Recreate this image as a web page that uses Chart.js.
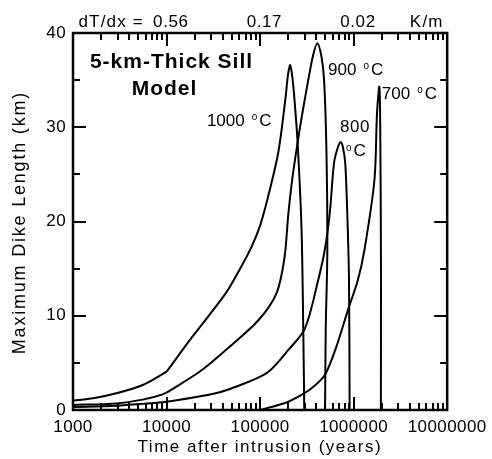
<!DOCTYPE html>
<html>
<head>
<meta charset="utf-8">
<script src="https://cdn.jsdelivr.net/npm/chart.js@4.4.1/dist/chart.umd.min.js"></script>
<style>
  html, body { margin: 0; padding: 0; background: #fff; }
  #wrap { width: 492px; height: 459px; }
</style>
</head>
<body>
<div id="wrap"><canvas id="dikeChart"></canvas></div>
<script>
/* tick labels */
const xTicks = [1000, 10000, 100000, 1000000, 10000000];
const yTicks = [0, 10, 20, 30, 40];
const gradTicks = [10000, 100000, 1000000];
const gradLabels = ['0.56', '0.17', '0.02'];

/* 1000 °C : two pieces, kink at 10000 yr */
const t1000a = [1000, 1640, 2910, 5570, 10000];
const l1000a = [1.0, 1.24, 1.77, 2.65, 4.06];
const t1000b = [10000, 18800, 43000, 63600, 81000, 101000, 123000, 157000, 186000, 199000, 210000, 220000, 232000, 252000, 277500, 289500, 296600];
const l1000b = [4.06, 7.75, 12.4, 15.3, 17.3, 19.7, 22.8, 27.4, 32.9, 35.6, 36.6, 35.5, 33.2, 28.3, 19.1, 8.5, 0];

/* 900 °C : two pieces, kink at 10000 yr */
const t900a = [1000, 2910, 5570, 8380, 10000];
const l900a = [0.53, 0.7, 1.1, 1.55, 1.84];
const t900b = [10000, 22300, 43000, 96500, 150000, 182000, 200000, 220000, 253000, 281000, 327000, 370000, 410000, 453000, 483000, 511000, 523500, 503000, 495000];
const l900b = [1.84, 4.03, 6.37, 9.55, 12.4, 16.1, 20.7, 24.4, 28.5, 31.3, 35.0, 37.7, 38.9, 37.5, 35.0, 27.9, 17.0, 8.5, 0];

/* 800 °C */
const t800 = [1000, 2910, 5570, 10000, 33500, 75500, 123000, 200500, 302000, 418000, 492000, 556000, 617000, 680000, 727000, 767000, 813000, 855000, 892000, 906000];
const l800 = [0.32, 0.45, 0.65, 0.88, 1.77, 3.0, 4.06, 6.37, 8.67, 13.8, 17.0, 20.9, 26.2, 27.9, 28.4, 27.9, 26.2, 20.9, 13.8, 0];

/* 700 °C */
const t700 = [100000, 157000, 200500, 256000, 355000, 492000, 653000, 869000, 1110000, 1306000, 1668000, 1778000, 1884000, 1925000, 1960000, 1955000];
const l700 = [0, 0.53, 0.88, 1.41, 2.3, 3.71, 6.7, 10.6, 13.8, 17.0, 24.4, 31.5, 34.3, 30.0, 15.0, 0];

/* curve labels: [text before the degree sign, time, length] */
const curveLabels = [
  ['1000', 27000, 30.6],
  ['900', 533000, 36.0],
  ['700', 2000000, 33.5]
];

const FONT = 'Arial, "Liberation Sans", Helvetica, sans-serif';

function pts(t, l) { return t.map((v, i) => ({ x: v, y: l[i] })); }

function curve(t, l) {
  return {
    data: pts(t, l),
    showLine: true,
    borderColor: '#000',
    borderWidth: 2,
    pointRadius: 0,
    tension: 0.3,
    fill: false
  };
}

function drawDeg(ctx, pre, px, py) {
  ctx.textAlign = 'left';
  ctx.textBaseline = 'middle';
  ctx.letterSpacing = '0px';
  ctx.font = '17px ' + FONT;
  let w = 0;
  if (pre) {
    ctx.fillText(pre, px, py);
    w = ctx.measureText(pre).width + 7;
  }
  ctx.font = '10px ' + FONT;
  ctx.fillText('o', px + w, py - 4);
  w += ctx.measureText('o').width + 2;
  ctx.font = '17px ' + FONT;
  ctx.fillText('C', px + w, py);
}

function spaced(ctx, text, px, py, spacing, align) {
  ctx.letterSpacing = spacing + 'px';
  const w = ctx.measureText(text).width - spacing;
  let left = px;
  if (align === 'center') left = px - w / 2;
  else if (align === 'right') left = px - w;
  ctx.textAlign = 'left';
  ctx.fillText(text, left, py);
  ctx.letterSpacing = '0px';
}

const frameAndText = {
  id: 'frameAndText',
  beforeDraw(chart) {
    chart.ctx.letterSpacing = '0.4px';
  },
  afterDraw(chart) {
    const { ctx, chartArea: a, scales: { x, y } } = chart;
    ctx.save();
    ctx.strokeStyle = '#000';
    ctx.fillStyle = '#000';

    // inward ticks on all four sides
    ctx.lineWidth = 2;
    ctx.beginPath();
    for (let d = 3; d < 7; d++) {
      for (let m = 1; m < 10; m++) {
        const px = Math.round(x.getPixelForValue(m * Math.pow(10, d)));
        const len = m === 1 ? 13 : 7;
        ctx.moveTo(px, a.bottom); ctx.lineTo(px, a.bottom - len);
        ctx.moveTo(px, a.top); ctx.lineTo(px, a.top + len);
      }
    }
    for (let v = 0; v <= 40; v += 5) {
      const py = Math.round(y.getPixelForValue(v));
      const len = v % 10 === 0 ? 13 : 7;
      ctx.moveTo(a.left, py); ctx.lineTo(a.left + len, py);
      ctx.moveTo(a.right, py); ctx.lineTo(a.right - len, py);
    }
    ctx.stroke();

    ctx.lineWidth = 2.5;
    ctx.strokeRect(a.left, a.top, a.right - a.left, a.bottom - a.top);

    ctx.textBaseline = 'middle';

    // axis titles
    ctx.font = '17px ' + FONT;
    spaced(ctx, 'Time after intrusion (years)', (a.left + a.right) / 2 - 1, 447, 1.5, 'center');
    ctx.save();
    ctx.translate(20, (a.top + a.bottom) / 2 + 2);
    ctx.rotate(-Math.PI / 2);
    ctx.font = '18px ' + FONT;
    spaced(ctx, 'Maximum Dike Length (km)', 0, 0, 1.8, 'center');
    ctx.restore();

    // top gradient labels
    ctx.font = '17px ' + FONT;
    const ty = a.top - 11;
    gradTicks.forEach((v, i) => spaced(ctx, gradLabels[i], x.getPixelForValue(v) + 4, ty, 0.6, 'center'));
    ctx.letterSpacing = '0.6px';
    const first = x.getPixelForValue(gradTicks[0]) + 4 - ctx.measureText(gradLabels[0]).width / 2;
    spaced(ctx, 'dT/dx =', first - 10, ty, 1.2, 'right');
    spaced(ctx, 'K/m', a.right - 21, ty, 1.2, 'center');

    // title
    ctx.font = 'bold 21px ' + FONT;
    spaced(ctx, '5-km-Thick Sill', 171, 62, 1, 'center');
    spaced(ctx, 'Model', 164, 89, 1, 'center');

    // curve labels
    curveLabels.forEach(([pre, t, l]) => drawDeg(ctx, pre, x.getPixelForValue(t), y.getPixelForValue(l)));
    ctx.font = '17px ' + FONT;
    const px8 = x.getPixelForValue(714000);
    spaced(ctx, '800', px8, y.getPixelForValue(30.0), 0.6, 'left');
    drawDeg(ctx, '', px8 + 6, y.getPixelForValue(27.4));

    ctx.restore();
  }
};

new Chart(document.getElementById('dikeChart'), {
  type: 'scatter',
  data: {
    datasets: [
      curve(t1000a, l1000a), curve(t1000b, l1000b),
      curve(t900a, l900a), curve(t900b, l900b),
      curve(t800, l800), curve(t700, l700)
    ]
  },
  options: {
    responsive: true,
    maintainAspectRatio: false,
    animation: false,
    layout: { padding: { top: 33, right: 42, left: 0, bottom: 0 } },
    plugins: { legend: { display: false }, tooltip: { enabled: false } },
    scales: {
      x: {
        type: 'logarithmic',
        min: 1000,
        max: 10000000,
        grid: { display: false, drawTicks: false },
        border: { display: false },
        afterBuildTicks: s => { s.ticks = xTicks.map(v => ({ value: v })); },
        afterFit: s => { s.height = 49; },
        ticks: {
          color: '#000', padding: 7, maxRotation: 0, autoSkip: false,
          font: { family: FONT, size: 17 },
          callback: v => String(v)
        }
      },
      y: {
        min: 0,
        max: 40,
        grid: { display: false, drawTicks: false },
        border: { display: false },
        afterBuildTicks: s => { s.ticks = yTicks.map(v => ({ value: v })); },
        afterFit: s => { s.width = 73; },
        ticks: {
          color: '#000', padding: 7,
          font: { family: FONT, size: 17 }
        }
      }
    }
  },
  plugins: [frameAndText]
});
</script>
</body>
</html>
